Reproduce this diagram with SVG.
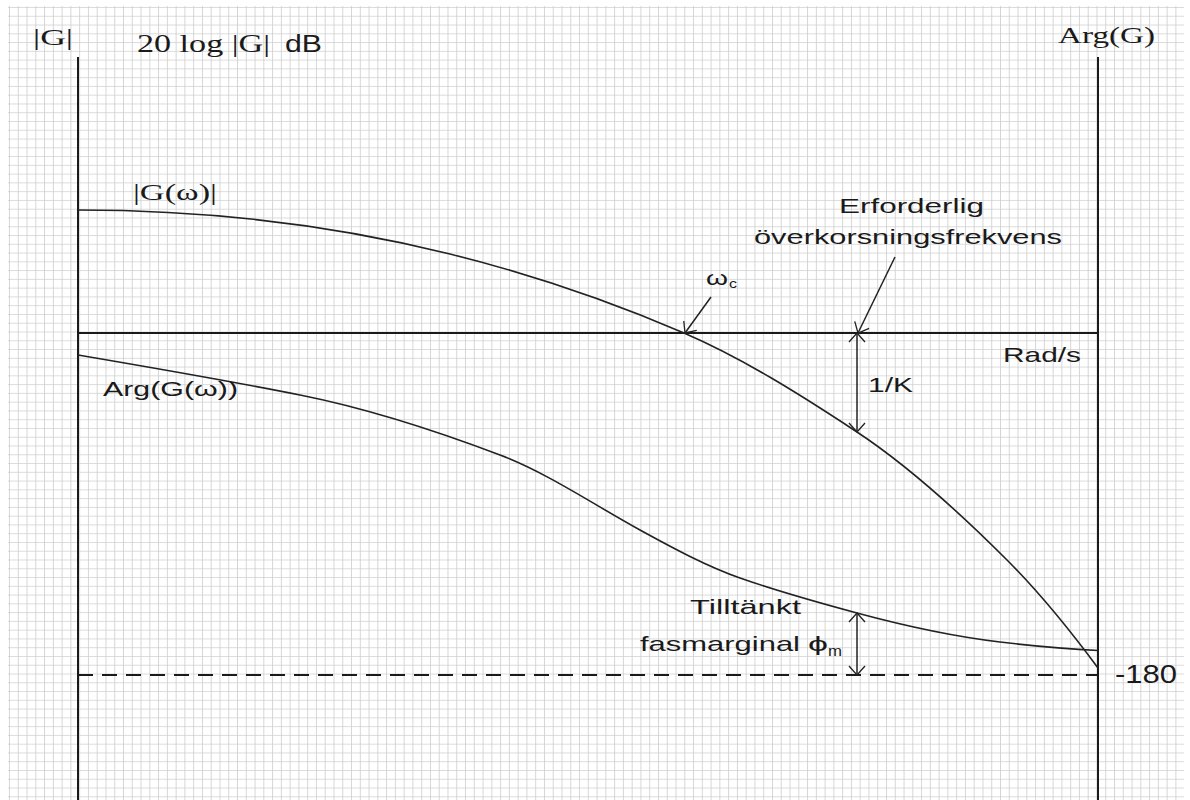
<svg xmlns="http://www.w3.org/2000/svg" width="1190" height="800" viewBox="0 0 1190 800">
<defs>
<pattern id="grid" width="8.77" height="8.77" patternUnits="userSpaceOnUse" x="9" y="7">
<path d="M0,0 H8.77 M0,0 V8.77" fill="none" stroke="#cfcfcf" stroke-width="1.7"/>
</pattern>
<marker id="arr" viewBox="-1 -1 11 18" refX="9" refY="8" markerWidth="11" markerHeight="18" markerUnits="userSpaceOnUse" orient="auto-start-reverse">
<path d="M0,0 L9,8 L0,16" fill="none" stroke="#222" stroke-width="1.3"/>
</marker>
<style>
.ax{stroke:#1a1a1a;stroke-width:2;fill:none}
.cv{stroke:#222;stroke-width:1.6;fill:none}
.ptr{stroke:#222;stroke-width:1.5;fill:none}
.serif{font-family:"Liberation Serif","Times New Roman",serif;fill:#1a1a1a}
.sans{font-family:"Liberation Sans",Arial,sans-serif;fill:#1a1a1a}
</style>
</defs>
<rect x="0" y="0" width="1190" height="800" fill="#ffffff"/>
<rect x="8" y="6" width="1176" height="794" fill="url(#grid)"/>

<g id="axes">
<line class="ax" x1="78" y1="57" x2="78" y2="800"/>
<line class="ax" x1="1098" y1="57" x2="1098" y2="800"/>
<line class="ax" x1="78" y1="333" x2="1098" y2="333"/>
<line class="ax" x1="78" y1="675" x2="1098" y2="675" stroke-dasharray="15 9" stroke-width="1.6"/>
</g>

<g id="magnitude-curve">
<path class="cv" d="M78,210 C202,210 326,223.1 450,254 C528,273.4 606,299.5 684,333 C741.7,357.8 799.3,393.9 857,432 C907,465 957,510 1007,560 C1037.3,590.3 1067.7,627.1 1098,668"/>
</g>

<g id="phase-curve">
<path class="cv" d="M78,355 C152,367.6 226,380.2 300,395 C366.7,408.3 433.3,429.7 500,455 C546.7,472.7 593.3,504.3 640,530 C673.3,548.3 706.7,566.3 740,578 C779,591.7 818,602.5 857,613 C904.7,625.9 952.3,636.3 1000,642 C1032.7,645.9 1065.3,648.9 1098,650.5"/>
</g>

<g id="connectors">
<line class="ptr" x1="711" y1="297" x2="685" y2="333" marker-end="url(#arr)"/>
<line class="ptr" x1="895" y1="257" x2="858" y2="333" marker-end="url(#arr)"/>
<line class="ptr" x1="857" y1="333" x2="857" y2="432" marker-start="url(#arr)" marker-end="url(#arr)"/>
<line class="ptr" x1="857" y1="613" x2="857" y2="675" marker-start="url(#arr)" marker-end="url(#arr)"/>
</g>

<g id="labels">
<text class="serif" x="33" y="45" font-size="24" textLength="40" lengthAdjust="spacingAndGlyphs">|G|</text>
<text class="serif" x="137" y="52" font-size="26" textLength="133" lengthAdjust="spacingAndGlyphs">20 log |G|</text>
<text class="sans" x="285" y="52" font-size="23" textLength="37" lengthAdjust="spacingAndGlyphs">dB</text>
<text class="serif" x="1058" y="43" font-size="24" textLength="97" lengthAdjust="spacingAndGlyphs">Arg(G)</text>
<text class="serif" x="133" y="200" font-size="24" textLength="84" lengthAdjust="spacingAndGlyphs">|G(ω)|</text>
<text class="sans" x="706" y="285" font-size="21" textLength="22" lengthAdjust="spacingAndGlyphs">ω</text>
<text class="sans" x="729" y="288" font-size="13" textLength="8" lengthAdjust="spacingAndGlyphs">c</text>
<text class="sans" x="839" y="213" font-size="21" textLength="145" lengthAdjust="spacingAndGlyphs">Erforderlig</text>
<text class="sans" x="754" y="244" font-size="21" textLength="308" lengthAdjust="spacingAndGlyphs">överkorsningsfrekvens</text>
<text class="sans" x="1003" y="362" font-size="21" textLength="78" lengthAdjust="spacingAndGlyphs">Rad/s</text>
<text class="sans" x="868" y="392" font-size="21" textLength="45" lengthAdjust="spacingAndGlyphs">1/K</text>
<text class="sans" x="103" y="396" font-size="21" textLength="135" lengthAdjust="spacingAndGlyphs">Arg(G(ω))</text>
<text class="sans" x="690" y="614" font-size="21" textLength="111" lengthAdjust="spacingAndGlyphs">Tilltänkt</text>
<text class="sans" x="640" y="651" font-size="21" textLength="160" lengthAdjust="spacingAndGlyphs">fasmarginal</text>
<text class="sans" x="808" y="651" font-size="21" textLength="20" lengthAdjust="spacingAndGlyphs">ϕ</text>
<text class="sans" x="828" y="656" font-size="14" textLength="14" lengthAdjust="spacingAndGlyphs">m</text>
<text class="sans" x="1115" y="683" font-size="25" textLength="62" lengthAdjust="spacingAndGlyphs">-180</text>
</g>
</svg>
